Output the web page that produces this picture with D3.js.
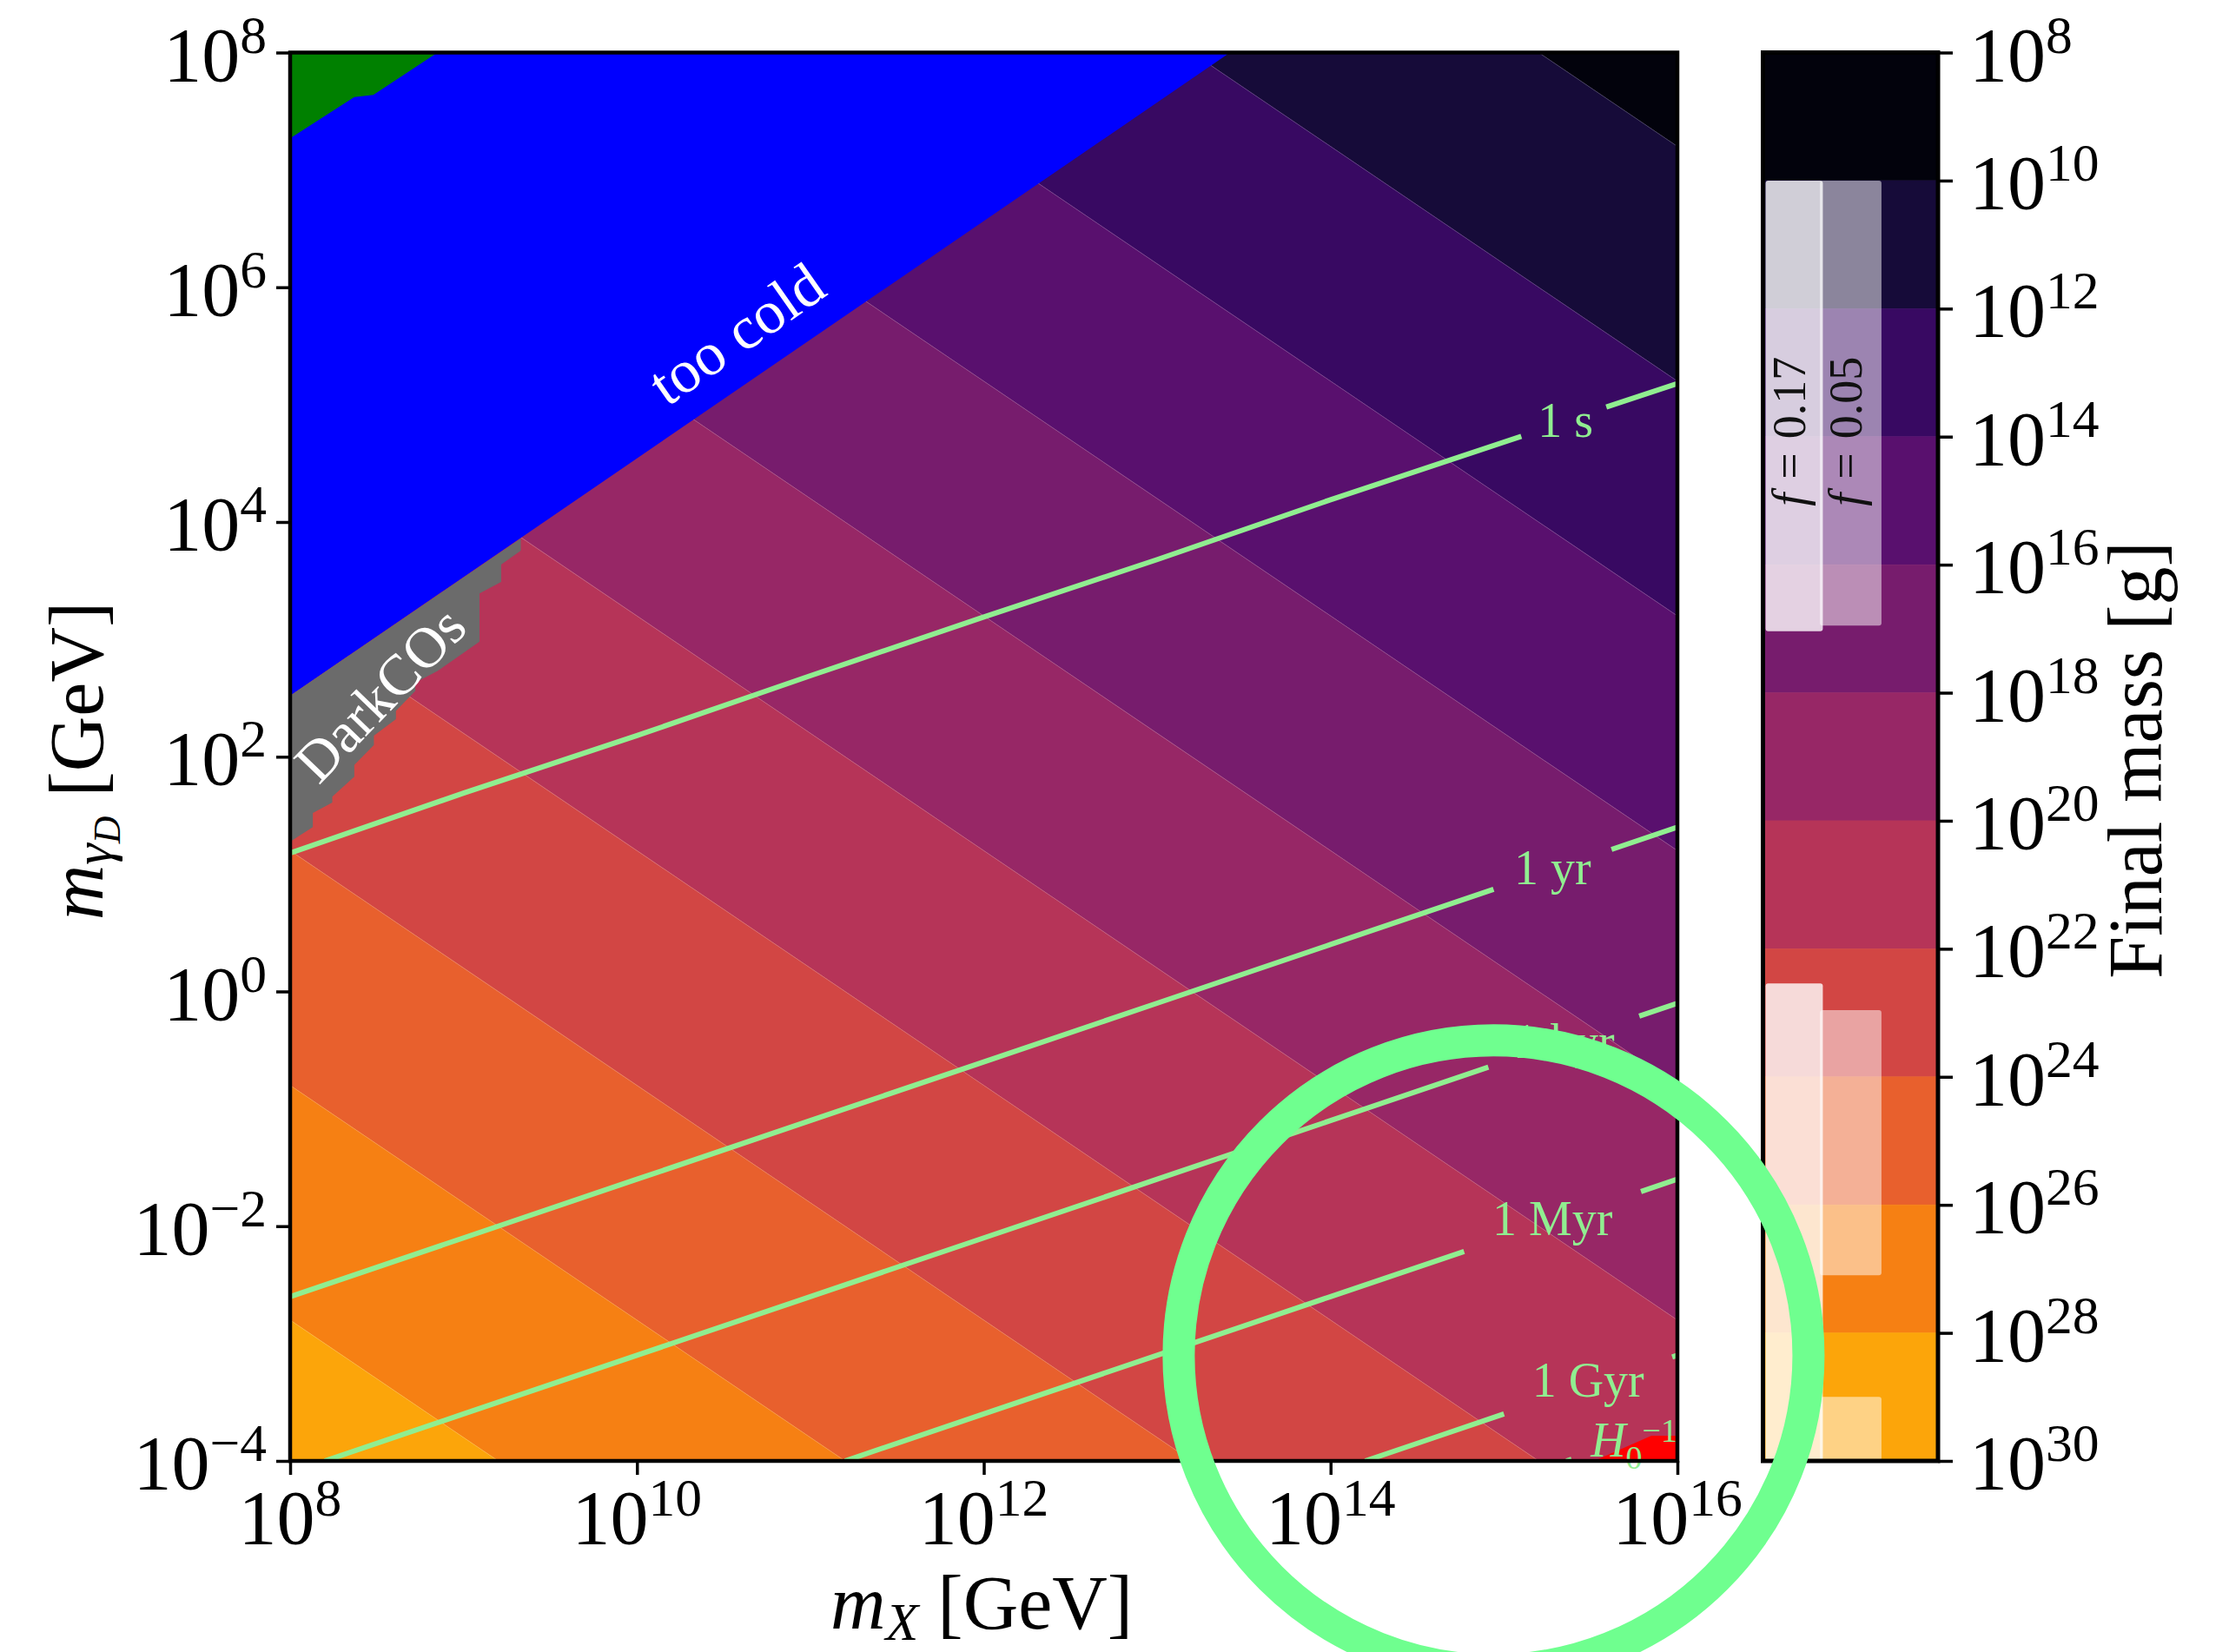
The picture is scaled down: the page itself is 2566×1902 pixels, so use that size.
<!DOCTYPE html>
<html>
<head>
<meta charset="utf-8">
<script src="https://cdn.jsdelivr.net/npm/d3@7"></script>
<style>
  html, body { margin: 0; padding: 0; background: #fff; }
  svg { display: block; }
  text { font-family: "Liberation Serif", "Times New Roman", serif; }
</style>
</head>
<body>
<svg id="chart" width="2566" height="1902"></svg>
<script>
// ---------------- data (all positions as log10 of GeV / g) ----------------
const xTickExps = [8, 10, 12, 14, 16];
const yTickExps = [-4, -2, 0, 2, 4, 6, 8];
const massLevelExps = [8, 10, 12, 14, 16, 18, 20, 22, 24, 26, 28, 30];
const massTickExps = [8, 10, 12, 14, 16, 18, 20, 22, 24, 26, 28, 30];
// final mass contours run along m_X * m_gammaD = const: log10(M) = massProductExp - log10(m_X) - log10(m_gammaD)
const massProductExp = 33.2;

// excluded / special regions, [log10 m_X, log10 m_gammaD]
const tooColdRegion = [[8, 8], [8, 2.52], [13.42, 8]];
const earlyRegion = [[8, 8], [8.85, 8], [8.48, 7.64], [8.37, 7.62], [8, 7.27]];
const hubbleRegion = [[15.52, -4], [15.85, -3.785], [16, -3.785], [16, -4]];
const darkCOsRegion = [
  [8, 2.52], [9.33, 3.86], [9.33, 3.755], [9.217, 3.637], [9.217, 3.489],
  [9.092, 3.392], [9.092, 2.98], [8.85, 2.73], [8.722, 2.63], [8.722, 2.56],
  [8.61, 2.39], [8.61, 2.32], [8.483, 2.18], [8.483, 2.10], [8.37, 1.93],
  [8.37, 1.83], [8.243, 1.66], [8.243, 1.61], [8.131, 1.52], [8.131, 1.40],
  [8.004, 1.28], [8, 1.28]
];

// lifetime contours (null = gap for the inline label)
const life1s   = [[8, 1.18], [9, 1.69], [10, 2.18], [11, 2.69], [12, 3.19], [13, 3.68], [14, 4.19], [15.1, 4.73], null, [15.59, 4.98], [16, 5.18]];
const life1yr  = [[8, -2.6], [9, -2.1], [10, -1.6], [11, -1.1], [12, -0.6], [13, -0.1], [14, 0.4], [14.94, 0.87], null, [15.62, 1.21], [16, 1.4]];
const life1kyr = [[8.2, -4], [9, -3.6], [10, -3.1], [11, -2.6], [12, -2.1], [13, -1.6], [14, -1.1], [14.91, -0.645], null, [15.78, -0.21], [16, -0.1]];
const life1Myr = [[11.2, -4], [12, -3.6], [13, -3.1], [14, -2.6], [14.77, -2.215], null, [15.79, -1.705], [16, -1.6]];
const life1Gyr = [[14.2, -4], [14.6, -3.8], [15.0, -3.6], null, [15.97, -3.115], [16, -3.1]];
const lifeHubble = [[15.36, -4], [15.39, -3.985]];
const lifetimeLines = [life1s, life1yr, life1kyr, life1Myr, life1Gyr, lifeHubble];
const lifetimeLabels = ["1 s", "1 yr", "1 kyr", "1 Myr", "1 Gyr"];
const lifetimeLabelAt = [[15.355, 4.86], [15.28, 1.05], [15.345, -0.43], [15.28, -1.94], [15.485, -3.315]];
const hubbleLabelAt = [15.75, -3.8];

// fraction bars drawn over the colorbar: ranges in log10(final mass / g)
const fValues = ["0.17", "0.05"];
const fRanges = [
  [[10, 17.04], [22.54, 30]],
  [[10, 16.95], [22.96, 27.1], [29.0, 30]]
];
const fLabelMassExp = 13.92;

const regionLabels = ["too cold", "DarkCOs"];
const regionLabelAt = [[10.575, 5.6], [8.52, 2.53]];

// highlighted spot (log10 m_X, log10 m_gammaD)
const highlightAt = [14.94, -3.1];

// ---------------- layout ----------------
const plot = { left: 334, right: 1931, top: 60.5, bottom: 1682 };
const cbar = { left: 2029.5, right: 2231 };
const TICK_FONT = 88;
const LABEL_GREEN = "#90ee90";

const svg = d3.select("#chart");
const x = d3.scaleLog().domain([1e8, 1e16]).range([plot.left, plot.right]);
const y = d3.scaleLog().domain([1e-4, 1e8]).range([plot.bottom, plot.top]);
const cb = d3.scaleLog().domain([1e8, 1e30]).range([plot.top, plot.bottom]);
const P = p => [x(Math.pow(10, p[0])), y(Math.pow(10, p[1]))];
const bandT = d3.scaleLinear().domain([8, 28]).range([0.02, 0.8]);
const bandColor = L => d3.interpolateInferno(bandT(L));

const closedPath = d3.line().curve(d3.curveLinearClosed);
const openPath = d3.line().defined(d => d !== null);

svg.append("defs").append("clipPath").attr("id", "plotClip")
  .append("rect")
  .attr("x", plot.left).attr("y", plot.top)
  .attr("width", plot.right - plot.left).attr("height", plot.bottom - plot.top);

const field = svg.append("g").attr("clip-path", "url(#plotClip)");

// half-plane polygon clipping in log space
function clipHalf(poly, f) {
  const out = [];
  for (let i = 0; i < poly.length; i++) {
    const a = poly[i], b = poly[(i + 1) % poly.length];
    const fa = f(a), fb = f(b);
    if (fa >= 0) out.push(a);
    if ((fa >= 0) !== (fb >= 0)) {
      const t = fa / (fa - fb);
      out.push([a[0] + t * (b[0] - a[0]), a[1] + t * (b[1] - a[1])]);
    }
  }
  return out;
}
const domainRect = [[8, -4], [16, -4], [16, 8], [8, 8]];

// filled mass bands
for (let i = 0; i < massLevelExps.length - 1; i++) {
  const lo = massLevelExps[i], hi = massLevelExps[i + 1];
  let poly = clipHalf(domainRect, p => (massProductExp - p[0] - p[1]) - lo);
  poly = clipHalf(poly, p => hi - (massProductExp - p[0] - p[1]));
  if (poly.length < 3) continue;
  field.append("path")
    .attr("d", closedPath(poly.map(P)))
    .attr("fill", bandColor(lo))
    .attr("stroke", bandColor(lo))
    .attr("stroke-width", 0.6);
}

// faint seams along the level boundaries
massLevelExps.slice(1, -1).forEach(L => {
  const k = massProductExp - L;
  const cand = [[8, k - 8], [16, k - 16], [k + 4, -4], [k - 8, 8]]
    .filter(p => p[0] >= 8 && p[0] <= 16 && p[1] >= -4 && p[1] <= 8);
  if (cand.length < 2) return;
  field.append("line")
    .attr("x1", P(cand[0])[0]).attr("y1", P(cand[0])[1])
    .attr("x2", P(cand[1])[0]).attr("y2", P(cand[1])[1])
    .attr("stroke", "#fff").attr("stroke-opacity", 0.2).attr("stroke-width", 1);
});

// special regions
field.append("path").attr("d", closedPath(tooColdRegion.map(P))).attr("fill", "#0000ff");
field.append("path").attr("d", closedPath(darkCOsRegion.map(P))).attr("fill", "#6b6b6b");
field.append("path").attr("d", closedPath(earlyRegion.map(P))).attr("fill", "#008000");
field.append("path").attr("d", closedPath(hubbleRegion.map(P))).attr("fill", "#ff0000");

// lifetime contours
lifetimeLines.forEach(pts => {
  field.append("path")
    .attr("d", openPath(pts.map(p => p === null ? null : P(p))))
    .attr("fill", "none")
    .attr("stroke", LABEL_GREEN)
    .attr("stroke-width", 6)
    .attr("stroke-linejoin", "round");
});

// inline lifetime labels
lifetimeLabels.forEach((lab, i) => {
  const [cx, cy] = P(lifetimeLabelAt[i]);
  svg.append("text")
    .attr("x", cx).attr("y", cy).attr("dy", "0.33em")
    .attr("text-anchor", "middle")
    .attr("font-size", 56)
    .attr("fill", LABEL_GREEN)
    .text(lab);
});
{
  const [hx, hy] = P(hubbleLabelAt);
  const t = svg.append("text")
    .attr("x", hx).attr("y", hy + 22)
    .attr("text-anchor", "middle")
    .attr("font-size", 56)
    .attr("fill", LABEL_GREEN);
  t.append("tspan").attr("font-style", "italic").text("H");
  t.append("tspan").attr("font-size", 38).attr("dy", 14).text("0");
  t.append("tspan").attr("font-size", 38).attr("dy", -31).text("\u22121");
}

// region labels
const regionAngles = [-35, -46];
const regionSizes = [70, 66];
regionLabels.forEach((lab, i) => {
  const [cx, cy] = P(regionLabelAt[i]);
  svg.append("text")
    .attr("transform", `translate(${cx},${cy}) rotate(${regionAngles[i]})`)
    .attr("dy", "0.33em")
    .attr("text-anchor", "middle")
    .attr("font-size", regionSizes[i])
    .attr("fill", "#fff")
    .text(lab);
});

// ---------------- axes ----------------
function powerText(sel, exp) {
  sel.append("tspan").text("10");
  sel.append("tspan")
    .attr("font-size", TICK_FONT * 0.7)
    .attr("dy", -32)
    .text(exp < 0 ? "\u2212" + (-exp) : String(exp));
}

const yAxis = svg.append("g")
  .attr("transform", `translate(${plot.left},0)`)
  .call(d3.axisLeft(y).tickValues(yTickExps.map(e => Math.pow(10, e))).tickSize(16).tickFormat(""));
yAxis.select(".domain").remove();
yAxis.selectAll(".tick line").attr("stroke", "#000").attr("stroke-width", 3.5);

const xAxis = svg.append("g")
  .attr("transform", `translate(0,${plot.bottom})`)
  .call(d3.axisBottom(x).tickValues(xTickExps.map(e => Math.pow(10, e))).tickSize(16).tickFormat(""));
xAxis.select(".domain").remove();
xAxis.selectAll(".tick line").attr("stroke", "#000").attr("stroke-width", 3.5);

yTickExps.forEach(e => {
  const t = svg.append("text")
    .attr("x", plot.left - 27)
    .attr("y", y(Math.pow(10, e)) + 32)
    .attr("text-anchor", "end")
    .attr("font-size", TICK_FONT)
    .attr("fill", "#000");
  powerText(t, e);
});
xTickExps.forEach(e => {
  const t = svg.append("text")
    .attr("x", x(Math.pow(10, e)))
    .attr("y", plot.bottom + 95)
    .attr("text-anchor", "middle")
    .attr("font-size", TICK_FONT)
    .attr("fill", "#000");
  powerText(t, e);
});

// plot frame
svg.append("rect")
  .attr("x", plot.left).attr("y", plot.top)
  .attr("width", plot.right - plot.left).attr("height", plot.bottom - plot.top)
  .attr("fill", "none").attr("stroke", "#000").attr("stroke-width", 4.5);

// axis titles
{
  const t = svg.append("text")
    .attr("x", 1130).attr("y", 1875)
    .attr("text-anchor", "middle")
    .attr("font-size", TICK_FONT).attr("fill", "#000");
  t.append("tspan").attr("font-style", "italic").text("m");
  t.append("tspan").attr("font-style", "italic").attr("font-size", 62).attr("dy", 13).text("X");
  t.append("tspan").attr("dy", -13).text(" [GeV]");
}
{
  const t = svg.append("text")
    .attr("transform", "translate(118,876) rotate(-90)")
    .attr("text-anchor", "middle")
    .attr("font-size", TICK_FONT).attr("fill", "#000");
  t.append("tspan").attr("font-style", "italic").text("m");
  t.append("tspan").attr("font-style", "italic").attr("font-size", 62).attr("dy", 10).text("\u03b3");
  t.append("tspan").attr("font-style", "italic").attr("font-size", 44).attr("dy", 10).text("D");
  t.append("tspan").attr("dy", -20).text(" [GeV]");
}

// ---------------- colorbar ----------------
const cbW = cbar.right - cbar.left;
for (let i = 0; i < massLevelExps.length - 1; i++) {
  const lo = massLevelExps[i], hi = massLevelExps[i + 1];
  svg.append("rect")
    .attr("x", cbar.left).attr("width", cbW)
    .attr("y", cb(Math.pow(10, lo)))
    .attr("height", cb(Math.pow(10, hi)) - cb(Math.pow(10, lo)))
    .attr("fill", bandColor(lo))
    .attr("stroke", bandColor(lo)).attr("stroke-width", 0.6);
}

// fraction bars
const fCols = [[0.015, 0.342], [0.325, 0.677]];
const fOpacity = [0.8, 0.5];
fRanges.forEach((ranges, j) => {
  const x0 = cbar.left + fCols[j][0] * cbW, x1 = cbar.left + fCols[j][1] * cbW;
  ranges.forEach(r => {
    const y0 = cb(Math.pow(10, r[0])), y1 = cb(Math.pow(10, r[1]));
    svg.append("rect")
      .attr("x", x0).attr("y", y0)
      .attr("width", x1 - x0).attr("height", y1 - y0)
      .attr("rx", 3).attr("ry", 3)
      .attr("fill", "#fff").attr("fill-opacity", fOpacity[j]);
  });
  const t = svg.append("text")
    .attr("transform", `translate(${(x0 + x1) / 2 + 13},${cb(Math.pow(10, fLabelMassExp))}) rotate(-90)`)
    .attr("text-anchor", "middle")
    .attr("font-size", 54).attr("fill", "#111");
  t.append("tspan").attr("font-style", "italic").text("f");
  t.append("tspan").attr("dx", 16).text("=");
  t.append("tspan").attr("dx", 16).text(fValues[j]);
});

svg.append("rect")
  .attr("x", cbar.left).attr("y", plot.top)
  .attr("width", cbW).attr("height", plot.bottom - plot.top)
  .attr("fill", "none").attr("stroke", "#000").attr("stroke-width", 5);

const cAxis = svg.append("g")
  .attr("transform", `translate(${cbar.right},0)`)
  .call(d3.axisRight(cb).tickValues(massTickExps.map(e => Math.pow(10, e))).tickSize(17).tickFormat(""));
cAxis.select(".domain").remove();
cAxis.selectAll(".tick line").attr("stroke", "#000").attr("stroke-width", 3.5);

massTickExps.forEach(e => {
  const t = svg.append("text")
    .attr("x", cbar.right + 36)
    .attr("y", cb(Math.pow(10, e)) + 32)
    .attr("text-anchor", "start")
    .attr("font-size", TICK_FONT).attr("fill", "#000");
  powerText(t, e);
});

svg.append("text")
  .attr("transform", "translate(2488,875) rotate(-90)")
  .attr("text-anchor", "middle")
  .attr("font-size", TICK_FONT).attr("fill", "#000")
  .text("Final mass [g]");

// ---------------- highlight ring ----------------
{
  const [hx, hy] = P(highlightAt);
  svg.append("circle")
    .attr("cx", hx).attr("cy", hy)
    .attr("r", 0.227 * (plot.right - plot.left))
    .attr("fill", "none")
    .attr("stroke", "#6fff8f")
    .attr("stroke-width", 37);
}
</script>
</body>
</html>
